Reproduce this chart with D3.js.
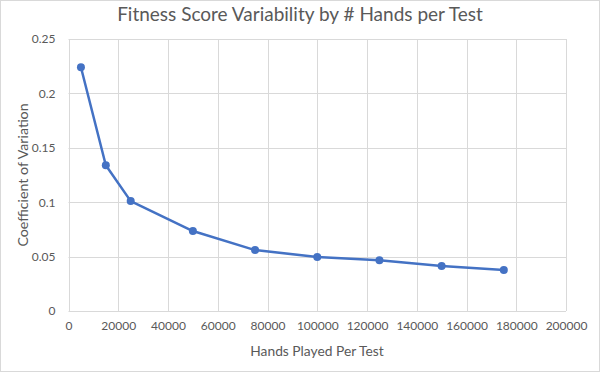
<!DOCTYPE html>
<html>
<head>
<meta charset="utf-8">
<script src="https://cdn.jsdelivr.net/npm/d3@7"></script>
<style>
  body { margin: 0; background: #fff; }
  text { font-family: Lato, "Liberation Sans", "DejaVu Sans", sans-serif; fill: #595959; }
</style>
</head>
<body>
<div id="chart"></div>
<script>
// hands played per test vs coefficient of variation
const handsPlayed = [5000, 15000, 25000, 50000, 75000, 100000, 125000, 150000, 175000];
const coeffVariation = [0.224, 0.134, 0.101, 0.0735, 0.056, 0.0496, 0.0466, 0.0414, 0.0377];
const xTicks = [0, 20000, 40000, 60000, 80000, 100000, 120000, 140000, 160000, 180000, 200000];
const yTicks = [0, 0.05, 0.1, 0.15, 0.2, 0.25];

const width = 600, height = 372;
const margin = { top: 39, right: 34, bottom: 61, left: 68.5 };

const svg = d3.select('#chart').append('svg')
    .attr('width', width)
    .attr('height', height);

// chart area border
svg.append('rect')
    .attr('x', 0.5).attr('y', 0.5)
    .attr('width', width - 1).attr('height', height - 1)
    .attr('fill', '#fff')
    .attr('stroke', '#d9d9d9');

let x = d3.scaleLinear()
    .domain([0, 200000])
    .range([margin.left, width - margin.right]);

let y = d3.scaleLinear()
    .domain([0, 0.25])
    .range([height - margin.bottom, margin.top]);

// gridlines
svg.append('g')
    .selectAll('line')
    .data(xTicks)
    .enter()
    .append('line')
    .attr('x1', d => Math.round(x(d)) + 0.5)
    .attr('x2', d => Math.round(x(d)) + 0.5)
    .attr('y1', y(0.25))
    .attr('y2', y(0))
    .attr('stroke', '#d9d9d9');

svg.append('g')
    .selectAll('line')
    .data(yTicks)
    .enter()
    .append('line')
    .attr('x1', x(0))
    .attr('x2', x(200000))
    .attr('y1', d => Math.round(y(d)) + 0.5)
    .attr('y2', d => Math.round(y(d)) + 0.5)
    .attr('stroke', '#d9d9d9');

// axes (labels only, Excel style)
let xAxis = d3.axisBottom(x).tickValues(xTicks).tickSize(0).tickPadding(10).tickFormat(d3.format('d'));
let yAxis = d3.axisLeft(y).tickValues(yTicks).tickSize(0).tickPadding(13).tickFormat(d => String(d));

const gx = svg.append('g')
    .attr('transform', `translate(0,${height - margin.bottom})`)
    .call(xAxis);
const gy = svg.append('g')
    .attr('transform', `translate(${margin.left},0)`)
    .call(yAxis);

[gx, gy].forEach(g => {
  g.select('.domain').remove();
  g.selectAll('text')
      .style('font-family', 'Lato, "Liberation Sans", sans-serif')
      .style('font-size', '12px')
      .style('fill', '#595959');
});

// series
svg.append('path')
    .datum(handsPlayed.map((h, i) => ({h, v: coeffVariation[i]})))
    .attr('fill', 'none')
    .attr('stroke', '#4472c4')
    .attr('stroke-width', 2.5)
    .attr('stroke-linejoin', 'round')
    .attr('d', d3.line()
        .x(d => x(d.h))
        .y(d => y(d.v)));

svg.selectAll('.dot')
    .data(handsPlayed)
    .enter()
    .append('circle')
    .attr('cx', d => x(d))
    .attr('cy', (d, i) => y(coeffVariation[i]))
    .attr('r', 4)
    .attr('fill', '#4472c4');

// titles
svg.append('text')
    .attr('x', 300)
    .attr('y', 21)
    .attr('text-anchor', 'middle')
    .style('font-size', '19px')
    .text('Fitness Score Variability by # Hands per Test');

svg.append('text')
    .attr('x', 317)
    .attr('y', 356)
    .attr('text-anchor', 'middle')
    .style('font-size', '13.8px')
    .text('Hands Played Per Test');

svg.append('text')
    .attr('transform', `translate(28,${y(0.125)}) rotate(-90)`)
    .attr('text-anchor', 'middle')
    .style('font-size', '14.2px')
    .text('Coefficient of Variation');
</script>
</body>
</html>
